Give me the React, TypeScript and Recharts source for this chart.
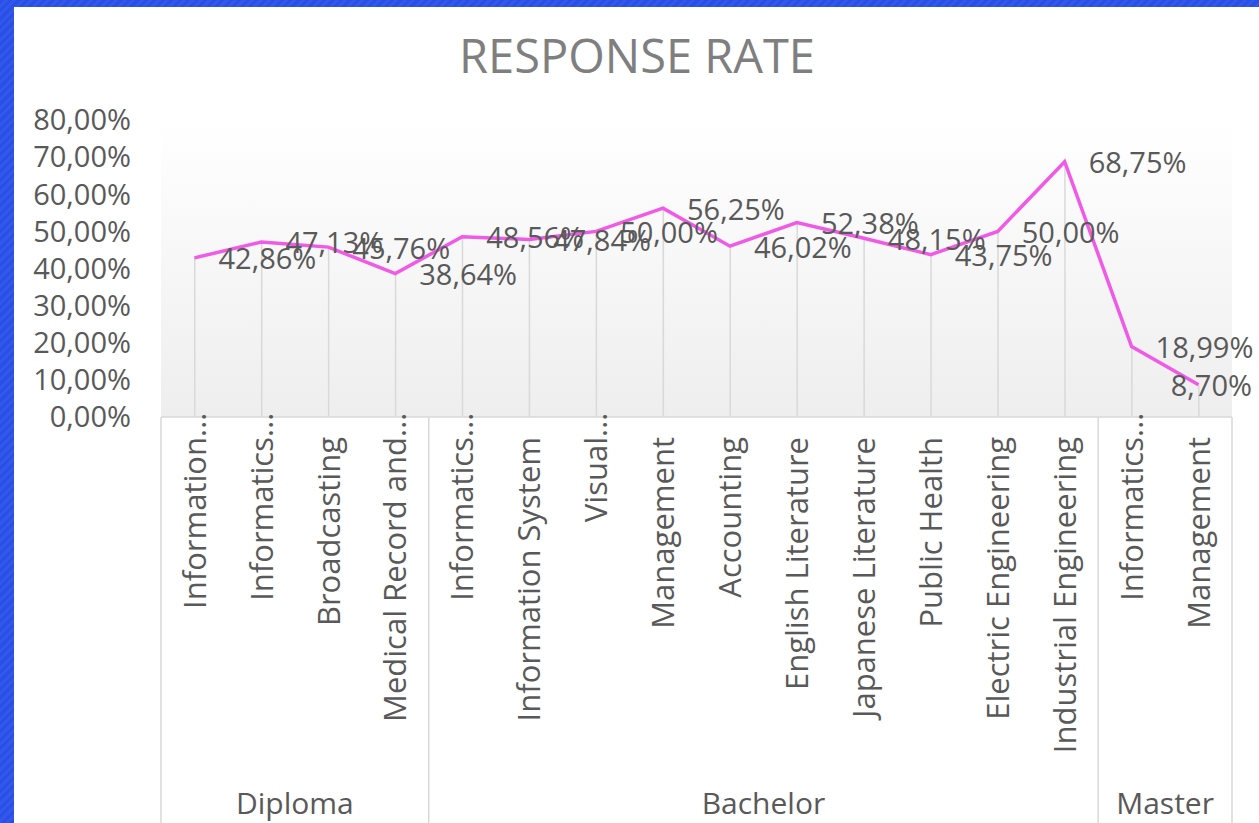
import React from 'react';
import { ComposedChart, Line, Bar, XAxis, YAxis, LabelList, CartesianGrid } from 'recharts';

const programs = [
  'Information...',
  'Informatics...',
  'Broadcasting',
  'Medical Record and...',
  'Informatics...',
  'Information System',
  'Visual...',
  'Management',
  'Accounting',
  'English Literature',
  'Japanese Literature',
  'Public Health',
  'Electric Engineering',
  'Industrial Engineering',
  'Informatics...',
  'Management',
];
const responseRate = [42.86, 47.13, 45.76, 38.64, 48.56, 47.84, 50.0, 56.25, 46.02, 52.38, 48.15, 43.75, 50.0, 68.75, 18.99, 8.7];
const levels = ['Diploma', 'Bachelor', 'Master'];
const levelCounts = [4, 10, 2];
const yTicks = [0, 10, 20, 30, 40, 50, 60, 70, 80];

const data = programs.map((name, i) => ({ name, rate: responseRate[i] }));

// first category index of each level
const levelStarts: number[] = [];
levelCounts.reduce((acc, c) => {
  levelStarts.push(acc);
  return acc + c;
}, 0);

const FONT = "'Open Sans', sans-serif";
const TEXT = '#595959';
const FRAME = '#d9d9d9';
const CAT_H = 353;
const LVL_H = 53;

const fmt = (v: number) => `${v.toFixed(2).replace('.', ',')}%`;

const CatTick = (props: any) => {
  const { x, y, payload } = props;
  const v: string = String(payload.value);
  const trunc = v.endsWith('...');
  const main = trunc ? v.slice(0, -3) : v;
  return (
    <g transform={`rotate(-90, ${x}, ${y})`}>
      <text x={x} y={y} dy="0.36em" textAnchor="end" fill={TEXT} fontSize={31} fontFamily={FONT}>
        {main}
      </text>
      {trunc && (
        <text x={x} y={y} dy="0.36em" textAnchor="start" fill={TEXT} fontSize={31} fontFamily={FONT}>
          ...
        </text>
      )}
    </g>
  );
};

const LevelTick = (props: any) => {
  const { x, y, payload, index, width, visibleTicksCount } = props;
  const i: number = typeof index === 'number' ? index : payload.index;
  let bw = payload && payload.offset ? payload.offset * 2 : 0;
  if (!bw && width && visibleTicksCount) bw = width / visibleTicksCount;
  const li = levelStarts.indexOf(i);
  const isLast = i === programs.length - 1;
  const left = x - bw / 2;
  return (
    <g>
      {li >= 0 && (
        <>
          <line x1={left} x2={left} y1={y - CAT_H} y2={y + LVL_H} stroke={FRAME} strokeWidth={1.5} />
          <text
            x={left + (levelCounts[li] * bw) / 2}
            y={y + 33}
            dy="0.36em"
            textAnchor="middle"
            fill={TEXT}
            fontSize={30}
            fontFamily={FONT}
          >
            {levels[li]}
          </text>
        </>
      )}
      {isLast && <line x1={x + bw / 2} x2={x + bw / 2} y1={y - CAT_H} y2={y + LVL_H} stroke={FRAME} strokeWidth={1.5} />}
    </g>
  );
};

const RateLabel = (props: any) => {
  const { x, y, value } = props;
  const label = fmt(Number(value));
  const estW = label.length * 16.4;
  let tx = x + 24;
  let anchor: 'start' | 'end' = 'start';
  if (tx + estW > 1256) {
    tx = 1252;
    anchor = 'end';
  }
  return (
    <text x={tx} y={y + 1} dy="0.36em" textAnchor={anchor} fill={TEXT} fontSize={29} fontFamily={FONT}>
      {label}
    </text>
  );
};

export default function App() {
  return (
    <div
      style={{
        position: 'absolute',
        left: 0,
        top: 0,
        width: 1259,
        height: 823,
        overflow: 'hidden',
        background: 'repeating-linear-gradient(135deg, #2a4fe4 0px, #2a4fe4 3px, #3158ea 3px, #3158ea 6px)',
      }}
    >
      <div style={{ position: 'absolute', left: 14, top: 7, right: 0, bottom: 0, background: '#ffffff' }} />
      <svg width={1259} height={100} style={{ position: 'absolute', left: 0, top: 0 }}>
        <text x={637} y={73} textAnchor="middle" fill="#7f7f7f" fontSize={47} fontFamily={FONT}>
          RESPONSE RATE
        </text>
      </svg>
      <div style={{ position: 'absolute', left: 0, top: 0 }}>
        <ComposedChart width={1259} height={823} data={data} margin={{ top: 120, right: 27, left: 0, bottom: 0 }}>
          <defs>
            <linearGradient id="plotGrad" x1="0" y1="0" x2="0" y2="1">
              <stop offset="0%" stopColor="#ffffff" />
              <stop offset="100%" stopColor="#eeeeee" />
            </linearGradient>
          </defs>
          <CartesianGrid fill="url(#plotGrad)" stroke="none" horizontal={false} vertical={false} />
          <XAxis
            dataKey="name"
            height={CAT_H}
            interval={0}
            tickLine={false}
            tickSize={0}
            tickMargin={20}
            axisLine={{ stroke: FRAME, strokeWidth: 1.5 }}
            tick={<CatTick />}
          />
          <XAxis
            xAxisId="level"
            dataKey="name"
            height={LVL_H}
            interval={0}
            tickLine={false}
            tickSize={0}
            tickMargin={0}
            axisLine={false}
            tick={<LevelTick />}
          />
          <YAxis
            width={161}
            domain={[0, 80]}
            ticks={yTicks}
            interval={0}
            tickLine={false}
            axisLine={false}
            tickSize={0}
            tickMargin={30}
            tickFormatter={fmt}
            tick={{ fill: TEXT, fontSize: 29, fontFamily: FONT }}
          />
          <Bar dataKey="rate" barSize={1.5} fill={FRAME} isAnimationActive={false} />
          <Line
            dataKey="rate"
            type="linear"
            stroke="#f05ae6"
            strokeWidth={3.5}
            dot={false}
            activeDot={false}
            isAnimationActive={false}
          >
            <LabelList dataKey="rate" content={<RateLabel />} />
          </Line>
        </ComposedChart>
      </div>
    </div>
  );
}
